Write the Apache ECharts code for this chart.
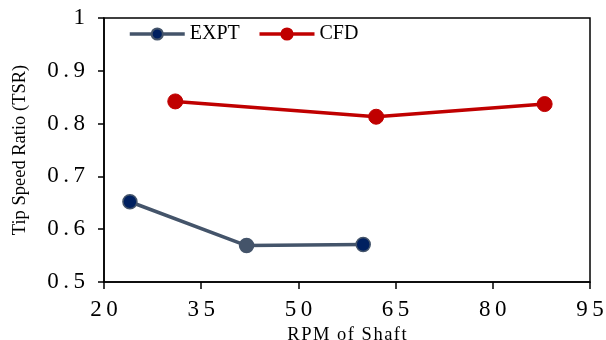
<!DOCTYPE html>
<html>
<head>
<meta charset="utf-8">
<script src="https://cdn.jsdelivr.net/npm/echarts@6/dist/echarts.min.js"></script>
<style>
html,body{margin:0;padding:0;background:#fff;}
#chart{width:606px;height:340px;}
</style>
</head>
<body>
<div id="chart"></div>
<script>
// Data
const exptRPM = [24, 42, 60];
const exptTSR = [0.652, 0.569, 0.571];
const cfdRPM = [31, 62, 88];
const cfdTSR = [0.842, 0.813, 0.837];
const xTickLabels = ['20', '35', '50', '65', '80', '95'];
const yTickLabels = ['0.5', '0.6', '0.7', '0.8', '0.9', '1'];
const seriesNames = ['EXPT', 'CFD'];
const xName = 'RPM of Shaft';
const yName = 'Tip Speed Ratio (TSR)';

// Excel-like character spacing, drawn glyph by glyph on the canvas
(function () {
  const proto = CanvasRenderingContext2D.prototype;
  const origFill = proto.fillText;
  function spacingFor(s) {
    if (/^[\d.]+$/.test(s)) return 4.5;
    if (s === xName) return 1.5;
    return 0;
  }
  proto.fillText = function (t, x, y, w) {
    const s = String(t);
    const ls = spacingFor(s);
    if (!ls || s.length < 2) {
      return w === undefined ? origFill.call(this, t, x, y) : origFill.call(this, t, x, y, w);
    }
    const chars = Array.from(s);
    const widths = chars.map(c => this.measureText(c).width);
    const total = widths.reduce((a, b) => a + b, 0) + ls * (chars.length - 1);
    const align = this.textAlign;
    let sx = x;
    if (align === 'center') sx = x - total / 2;
    else if (align === 'right' || align === 'end') sx = x - total;
    this.textAlign = 'left';
    chars.forEach((c, i) => { origFill.call(this, c, sx, y); sx += widths[i] + ls; });
    this.textAlign = align;
  };
})();

const FONT = '"Liberation Serif", "Times New Roman", serif';
const exptData = exptRPM.map((x, i) => {
  const item = { value: [x, exptTSR[i]] };
  if (i === 1) item.itemStyle = { color: '#44546A' };
  return item;
});
const cfdData = cfdRPM.map((x, i) => [x, cfdTSR[i]]);

const chart = echarts.init(document.getElementById('chart'));
chart.setOption({
  animation: false,
  backgroundColor: '#fff',
  grid: {
    left: 104, right: 16, top: 18, bottom: 58,
    outerBoundsMode: 'none', containLabel: false,
    show: true, borderColor: '#000', borderWidth: 1.5, backgroundColor: 'transparent'
  },
  legend: {
    left: 128, top: 24, padding: 0,
    itemWidth: 55, itemHeight: 14, itemGap: 18,
    lineStyle: { width: 3.5 },
    textStyle: { fontFamily: FONT, fontSize: 20, color: '#000' },
    data: seriesNames
  },
  xAxis: {
    type: 'value', min: 20, max: 95, interval: 15,
    name: xName, nameLocation: 'middle', nameGap: 41,
    nameTextStyle: { fontFamily: FONT, fontSize: 18.5, color: '#000' },
    axisLine: { lineStyle: { color: '#000', width: 1.5 } },
    axisTick: { show: true, length: 7, lineStyle: { color: '#000', width: 1.5 } },
    splitLine: { show: false },
    axisLabel: {
      margin: 16, fontFamily: FONT, fontSize: 23, color: '#000',
      formatter: v => xTickLabels[Math.round((v - 20) / 15)]
    }
  },
  yAxis: {
    type: 'value', min: 0.5, max: 1, interval: 0.1,
    name: yName, nameLocation: 'middle', nameGap: 74,
    nameTextStyle: { fontFamily: FONT, fontSize: 18.5, color: '#000' },
    axisLine: { show: true, lineStyle: { color: '#000', width: 1.5 } },
    axisTick: { show: true, length: 6, lineStyle: { color: '#000', width: 1.5 } },
    splitLine: { show: false },
    axisLabel: {
      margin: 19, fontFamily: FONT, fontSize: 23, color: '#000',
      formatter: v => yTickLabels[Math.round((v - 0.5) * 10)]
    }
  },
  series: [
    {
      name: seriesNames[0], type: 'line', data: exptData,
      symbol: 'circle', symbolSize: 14,
      lineStyle: { color: '#44546A', width: 3.5 },
      itemStyle: { color: '#002060', borderColor: '#44546A', borderWidth: 1.5 }
    },
    {
      name: seriesNames[1], type: 'line', data: cfdData,
      symbol: 'circle', symbolSize: 15,
      lineStyle: { color: '#C00000', width: 3.5 },
      itemStyle: { color: '#C00000', borderColor: '#C00000', borderWidth: 1 }
    }
  ]
});
</script>
</body>
</html>
